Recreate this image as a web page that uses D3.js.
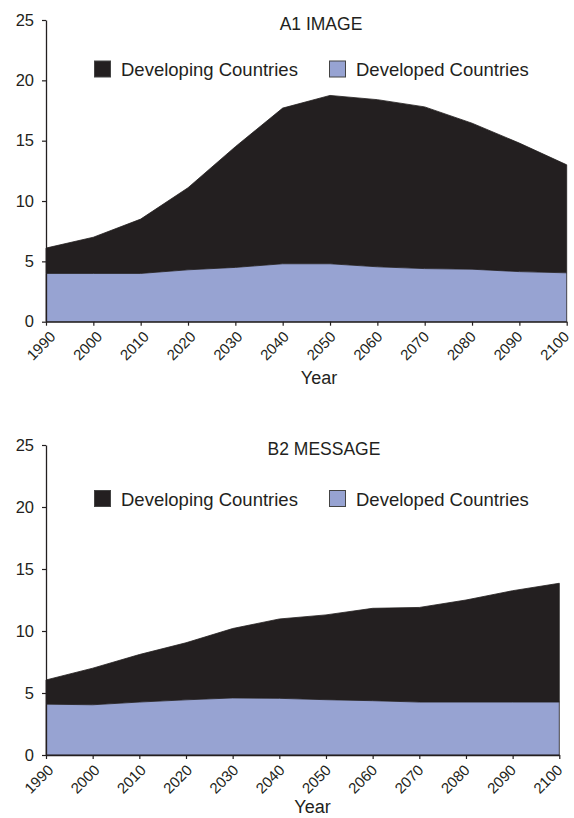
<!DOCTYPE html>
<html>
<head>
<meta charset="utf-8">
<script src="https://cdn.jsdelivr.net/npm/d3@7/dist/d3.min.js"></script>
<style>
  html, body { margin: 0; padding: 0; background: #fff; }
  svg { display: block; font-family: "Liberation Sans", Arial, Helvetica, sans-serif; }
</style>
</head>
<body>
<svg id="chart" width="574" height="818"></svg>
<script>
// Years on the x axis
const years = [1990, 2000, 2010, 2020, 2030, 2040, 2050, 2060, 2070, 2080, 2090, 2100];
const yTicks = [0, 5, 10, 15, 20, 25];
const seriesNames = ["Developing Countries", "Developed Countries"];

// A1 IMAGE scenario
const a1Developed = [4.0, 4.0, 4.0, 4.3, 4.5, 4.8, 4.8, 4.55, 4.4, 4.35, 4.15, 4.05];
const a1Total     = [6.1, 7.0, 8.5, 11.1, 14.5, 17.7, 18.75, 18.4, 17.8, 16.45, 14.8, 13.0];

// B2 MESSAGE scenario
const b2Developed = [4.1, 4.05, 4.27, 4.45, 4.6, 4.57, 4.46, 4.38, 4.27, 4.27, 4.27, 4.27];
const b2Total     = [6.05, 7.0, 8.1, 9.05, 10.2, 10.97, 11.3, 11.83, 11.9, 12.5, 13.25, 13.85];

const DARK = "#231f20";
const BLUE = "#97a3d2";

const svg = d3.select("#chart");

function drawPanel(cfg) {
  const g = svg.append("g");
  const x = d3.scaleLinear().domain([1990, 2100]).range([cfg.x0, cfg.x1]);
  const y = d3.scaleLinear().domain([0, 25]).range([cfg.yBottom, cfg.yTop]);
  const labelX = d3.scalePoint().domain(years).range([cfg.x0 + cfg.labA, cfg.x1 + cfg.labB]);

  const rows = years.map((yr, i) => ({ year: yr, dev: cfg.developed[i], total: cfg.total[i] }));

  // Developing countries: stacked between developed and total
  g.append("path")
    .datum(rows)
    .attr("d", d3.area().x(d => x(d.year)).y0(d => y(d.dev)).y1(d => y(d.total)))
    .attr("fill", DARK)
    .attr("stroke", DARK)
    .attr("stroke-width", 0.8);

  // Developed countries: from zero up
  g.append("path")
    .datum(rows)
    .attr("d", d3.area().x(d => x(d.year)).y0(y(0)).y1(d => y(d.dev)))
    .attr("fill", BLUE)
    .attr("stroke", DARK)
    .attr("stroke-width", 0.8);

  // Y axis
  const yAxis = g.append("g")
    .attr("transform", `translate(${cfg.x0},0)`)
    .call(d3.axisLeft(y).tickValues(yTicks).tickSize(4).tickPadding(8).tickSizeOuter(0));
  yAxis.select(".domain").attr("stroke", DARK).attr("stroke-width", 1.3);
  yAxis.selectAll(".tick line").attr("stroke", DARK).attr("stroke-width", 1.2);
  yAxis.selectAll(".tick text")
    .attr("fill", DARK)
    .attr("font-size", 16.5)
    .attr("font-family", "Liberation Sans, Arial, sans-serif");

  // X axis (ticks only, labels drawn separately rotated)
  const xAxis = g.append("g")
    .attr("transform", `translate(0,${cfg.yBottom})`)
    .call(d3.axisBottom(x).tickValues(years).tickSize(4).tickFormat("").tickSizeOuter(0));
  xAxis.select(".domain").attr("stroke", DARK).attr("stroke-width", 1.3);
  xAxis.selectAll(".tick line").attr("stroke", DARK).attr("stroke-width", 1.2);

  g.append("g").selectAll("text")
    .data(years)
    .join("text")
    .attr("transform", d => `translate(${labelX(d)},${cfg.yBottom + 16}) rotate(-45)`)
    .attr("text-anchor", "end")
    .attr("font-size", 15)
    .attr("fill", DARK)
    .text(d => d);

  // Axis title
  g.append("text")
    .attr("x", cfg.yearX)
    .attr("y", cfg.yearY)
    .attr("text-anchor", "middle")
    .attr("font-size", 18)
    .attr("fill", DARK)
    .text("Year");

  // Panel title
  g.append("text")
    .attr("x", cfg.titleX)
    .attr("y", cfg.titleY)
    .attr("text-anchor", "middle")
    .attr("font-size", 17.5)
    .attr("fill", DARK)
    .text(cfg.title);

  // Legend
  const legendItems = [
    { name: seriesNames[0], color: DARK, sx: 94, tx: 121 },
    { name: seriesNames[1], color: BLUE, sx: 329, tx: 356 }
  ];
  const lg = g.append("g");
  legendItems.forEach(item => {
    lg.append("rect")
      .attr("x", item.sx + 0.5)
      .attr("y", cfg.legendY + 0.5)
      .attr("width", 16)
      .attr("height", 16)
      .attr("fill", item.color)
      .attr("stroke", "#444")
      .attr("stroke-width", 1);
    lg.append("text")
      .attr("x", item.tx)
      .attr("y", cfg.legendY + 15.5)
      .attr("font-size", 18.5)
      .attr("fill", DARK)
      .text(item.name);
  });
}

drawPanel({
  title: "A1 IMAGE",
  developed: a1Developed,
  total: a1Total,
  x0: 46, x1: 566.7,
  yTop: 20, yBottom: 321.7,
  labA: 10.5, labB: 3.5,
  titleX: 321, titleY: 30,
  legendY: 60.5,
  yearX: 319, yearY: 384
});

drawPanel({
  title: "B2 MESSAGE",
  developed: b2Developed,
  total: b2Total,
  x0: 46, x1: 559.3,
  yTop: 445, yBottom: 755,
  labA: 8.3, labB: 4,
  titleX: 324, titleY: 455,
  legendY: 490,
  yearX: 312.5, yearY: 813
});
</script>
</body>
</html>
